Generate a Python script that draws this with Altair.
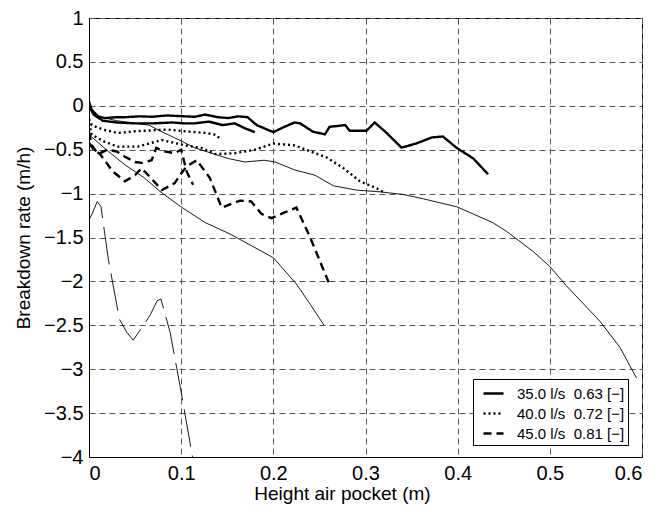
import altair as alt
import pandas as pd

# ---- thick curves (legend groups) ----
solid1_x = [0.0, 0.003, 0.01, 0.017, 0.03, 0.039, 0.055, 0.068, 0.085, 0.104, 0.115, 0.126, 0.14, 0.151, 0.162, 0.172, 0.182, 0.2, 0.212, 0.223, 0.229, 0.243, 0.256, 0.261, 0.278, 0.283, 0.301, 0.31, 0.323, 0.339, 0.355, 0.372, 0.384, 0.399, 0.417, 0.433]
solid1_y = [0.05, -0.05, -0.12, -0.14, -0.13, -0.13, -0.12, -0.125, -0.11, -0.12, -0.125, -0.1, -0.13, -0.14, -0.12, -0.13, -0.22, -0.3, -0.24, -0.19, -0.2, -0.295, -0.325, -0.24, -0.22, -0.285, -0.285, -0.19, -0.31, -0.476, -0.43, -0.36, -0.35, -0.48, -0.6, -0.78]

solid2_x = [0.0, 0.005, 0.015, 0.03, 0.05, 0.07, 0.09, 0.104, 0.115, 0.13, 0.145, 0.158, 0.17, 0.18]
solid2_y = [0.0, -0.1, -0.17, -0.19, -0.2, -0.2, -0.19, -0.2, -0.2, -0.18, -0.22, -0.2, -0.26, -0.3]

dot1_x = [0.0, 0.003, 0.015, 0.031, 0.05, 0.068, 0.085, 0.104, 0.115, 0.128, 0.137, 0.142]
dot1_y = [-0.15, -0.22, -0.27, -0.31, -0.29, -0.28, -0.27, -0.29, -0.3, -0.31, -0.33, -0.37]

dot2_x = [0.0, 0.003, 0.017, 0.031, 0.053, 0.065, 0.079, 0.104, 0.122, 0.137, 0.158, 0.18, 0.2, 0.223, 0.243, 0.258, 0.276, 0.294, 0.312, 0.319]
dot2_y = [-0.2, -0.33, -0.41, -0.465, -0.465, -0.43, -0.39, -0.45, -0.48, -0.55, -0.54, -0.5, -0.43, -0.45, -0.53, -0.59, -0.71, -0.86, -0.94, -0.98]

dash1_x = [0.0, 0.003, 0.01, 0.02, 0.03, 0.039, 0.05, 0.057, 0.068, 0.073, 0.082, 0.093, 0.1, 0.106, 0.113]
dash1_y = [-0.3, -0.45, -0.55, -0.5, -0.52, -0.58, -0.64, -0.65, -0.62, -0.48, -0.52, -0.54, -0.5, -0.75, -0.9]

dash2_x = [0.0, 0.005, 0.012, 0.026, 0.039, 0.05, 0.057, 0.067, 0.079, 0.093, 0.1, 0.106, 0.117, 0.131, 0.144, 0.164, 0.176, 0.187, 0.198, 0.211, 0.225, 0.24, 0.26]
dash2_y = [-0.42, -0.5, -0.55, -0.75, -0.86, -0.79, -0.71, -0.82, -0.96, -0.88, -0.77, -0.69, -0.62, -0.82, -1.16, -1.08, -1.09, -1.23, -1.28, -1.22, -1.16, -1.5, -2.01]

# ---- thin curves ----
thinA_x = [0.0, 0.01, 0.03, 0.05, 0.065, 0.08, 0.1, 0.115, 0.13, 0.151, 0.169, 0.19, 0.202, 0.223, 0.245, 0.265, 0.29, 0.316, 0.341, 0.363, 0.399, 0.438, 0.453, 0.482, 0.5, 0.518, 0.554, 0.576, 0.594]
thinA_y = [0.0, -0.12, -0.17, -0.2, -0.22, -0.3, -0.4, -0.48, -0.53, -0.6, -0.64, -0.62, -0.64, -0.73, -0.79, -0.91, -0.96, -0.98, -1.01, -1.06, -1.15, -1.33, -1.43, -1.66, -1.83, -2.05, -2.45, -2.75, -3.1]

thinB_x = [0.0, 0.01, 0.021, 0.04, 0.06, 0.077, 0.099, 0.11, 0.126, 0.153, 0.2, 0.225, 0.24, 0.255]
thinB_y = [-0.33, -0.42, -0.52, -0.68, -0.82, -0.975, -1.145, -1.22, -1.33, -1.46, -1.73, -2.03, -2.26, -2.5]

thinC_x = [0.0, 0.003, 0.009, 0.013, 0.021, 0.033, 0.041, 0.048, 0.066, 0.074, 0.078, 0.088, 0.1, 0.111, 0.113]
thinC_y = [-1.3, -1.24, -1.09, -1.15, -1.75, -2.43, -2.58, -2.67, -2.39, -2.22, -2.2, -2.58, -3.26, -3.92, -4.05]

NB = "\u00a0"
legend_labels = [
    "35.0 l/s" + NB * 2 + "0.63 [\u2212]" + NB,
    "40.0 l/s" + NB * 2 + "0.72 [\u2212]" + NB,
    "45.0 l/s" + NB * 2 + "0.81 [\u2212]" + NB,
]

x_ticks = [0, 0.1, 0.2, 0.3, 0.4, 0.5, 0.6]
y_ticks = [-4, -3.5, -3, -2.5, -2, -1.5, -1, -0.5, 0, 0.5, 1]


def frame(xs, ys, curve, group=None):
    d = pd.DataFrame({"x": xs, "y": ys})
    d["curve"] = curve
    if group is not None:
        d["group"] = group
    d["order"] = range(len(xs))
    return d


thick = pd.concat([
    frame(solid1_x, solid1_y, "s1", legend_labels[0]),
    frame(solid2_x, solid2_y, "s2", legend_labels[0]),
    frame(dot1_x, dot1_y, "d1", legend_labels[1]),
    frame(dot2_x, dot2_y, "d2", legend_labels[1]),
    frame(dash1_x, dash1_y, "k1", legend_labels[2]),
    frame(dash2_x, dash2_y, "k2", legend_labels[2]),
])
thin = pd.concat([
    frame(thinA_x, thinA_y, "tA"),
    frame(thinB_x, thinB_y, "tB"),
])
thinc = frame(thinC_x, thinC_y, "tC")

FONT = "Liberation Sans"

xs = alt.Scale(domain=[0, 0.6], nice=False, zero=False)
ys = alt.Scale(domain=[-4, 1], nice=False, zero=False)

xax = alt.Axis(values=x_ticks, format="~g", title="Height air pocket (m)",
               labelPadding=6, titlePadding=1, titleX=253, titleAlign="center")
yax = alt.Axis(values=y_ticks, format="~g", title="Breakdown rate (m/h)",
               labelPadding=6, titlePadding=10)

thin_layer = alt.Chart(thin).mark_line(color="black", strokeWidth=0.9, clip=True).encode(
    x=alt.X("x:Q", scale=xs, axis=xax),
    y=alt.Y("y:Q", scale=ys, axis=yax),
    detail="curve:N",
    order="order:Q",
)

thinc_layer = alt.Chart(thinc).mark_line(color="black", strokeWidth=0.9, clip=True,
                                         strokeDash=[38, 9]).encode(
    x=alt.X("x:Q", scale=xs),
    y=alt.Y("y:Q", scale=ys),
    order="order:Q",
)

thick_layer = alt.Chart(thick).mark_line(color="black", strokeWidth=2.4, clip=True).encode(
    x=alt.X("x:Q", scale=xs),
    y=alt.Y("y:Q", scale=ys),
    detail="curve:N",
    order="order:Q",
    strokeDash=alt.StrokeDash(
        "group:N",
        scale=alt.Scale(domain=legend_labels, range=[[1, 0], [2, 3], [8, 5]]),
        legend=alt.Legend(
            title=None, orient="none", legendX=384, legendY=361,
            strokeColor="black", fillColor="white", padding=3,
            symbolType="stroke", symbolSize=400, symbolStrokeWidth=2.4,
            symbolOffset=6,
            symbolStrokeColor="black", labelFontSize=15, labelFont=FONT,
            labelColor="black", labelOffset=12, rowPadding=-2,
            cornerRadius=0, labelLimit=300,
        ),
    ),
)

chart = alt.layer(thin_layer, thinc_layer, thick_layer).properties(
    width=553, height=439,
    padding={"left": 81, "top": 10, "right": 8, "bottom": 48},
    autosize=alt.AutoSizeParams(type="none"),
    background="white",
).configure_view(
    stroke="black", strokeWidth=1,
).configure_axis(
    labelFont=FONT, titleFont=FONT, labelFontSize=20, titleFontSize=19,
    labelColor="black", titleColor="black", titleFontWeight="normal",
    domain=True, domainColor="black", domainWidth=1,
    ticks=False,
    grid=True, gridColor="#555555", gridDash=[6, 4], gridWidth=1, gridOpacity=1,
)

chart.save("out.html", embed_options={"renderer": "svg", "actions": False})
